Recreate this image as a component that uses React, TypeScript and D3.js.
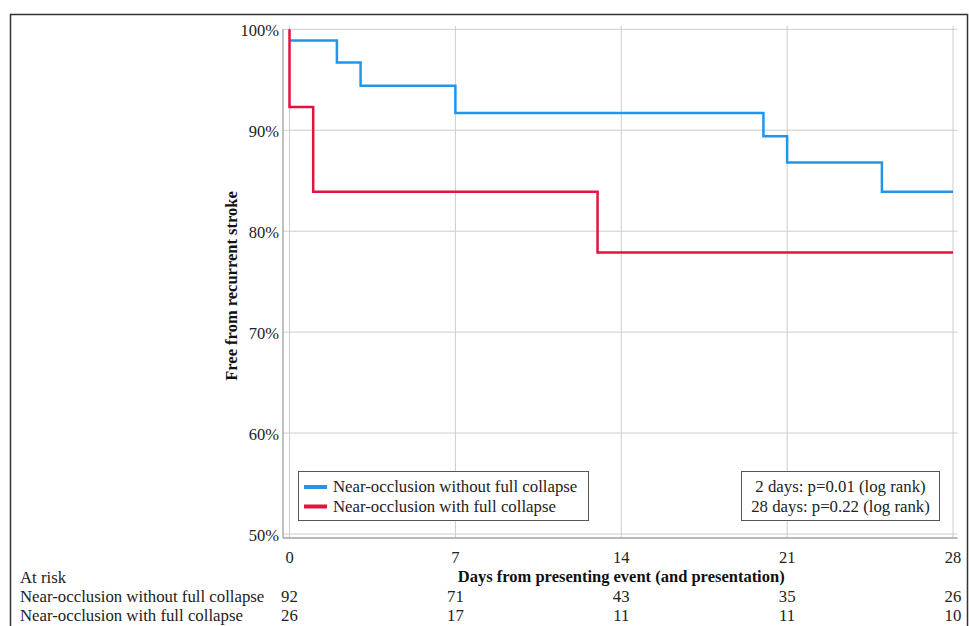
import * as d3 from "d3";

const W = 969;
const H = 626;

// Kaplan-Meier steps (days, % free from recurrent stroke)
const blueDays = [0, 2, 3, 7, 20, 21, 25, 28];
const blueSurv = [98.9, 96.7, 94.4, 91.7, 89.4, 86.8, 83.9, 83.9];
const redDays = [0, 0, 1, 13, 28];
const redSurv = [100, 92.3, 83.9, 77.9, 77.9];

const xTicks = [0, 7, 14, 21, 28];
const yTicks = [50, 60, 70, 80, 90, 100];
const riskWithout = [92, 71, 43, 35, 26];
const riskWith = [26, 17, 11, 11, 10];

const seriesNames = ["Near-occlusion without full collapse", "Near-occlusion with full collapse"];
const pLines = ["2 days: p=0.01 (log rank)", "28 days: p=0.22 (log rank)"];

const BLUE = "#1f96ee";
const RED = "#e0143e";
const FONT = "'Liberation Serif', 'Times New Roman', serif";

export default function App() {
  const x = d3.scaleLinear().domain([0, 28]).range([289.5, 953]);
  const y = d3.scaleLinear().domain([50, 100]).range([534, 29.3]);
  const left = 283;
  const right = 957.5;
  const bottom = 538;

  const line = d3
    .line<[number, number]>()
    .x((d) => x(d[0]))
    .y((d) => y(d[1]))
    .curve(d3.curveStepAfter);

  const bluePts = blueDays.map((d, i) => [d, blueSurv[i]] as [number, number]);
  const redPts = redDays.map((d, i) => [d, redSurv[i]] as [number, number]);

  return (
    <svg
      width={W}
      height={H}
      style={{ position: "absolute", left: 0, top: 0, background: "#fff" }}
      fontFamily={FONT}
    >
      {/* outer frame */}
      <rect x={10.5} y={14.5} width={957} height={640} fill="none" stroke="#333" strokeWidth={1.5} />

      {/* gridlines */}
      {yTicks.map((t) => (
        <line key={"gy" + t} x1={left} x2={right} y1={y(t)} y2={y(t)} stroke="#cccccc" strokeWidth={1} />
      ))}
      {xTicks.map((t) => (
        <line key={"gx" + t} x1={x(t)} x2={x(t)} y1={26} y2={bottom} stroke="#cccccc" strokeWidth={1} />
      ))}

      {/* axes */}
      <line x1={left} x2={left} y1={29} y2={bottom} stroke="#a0a0a0" strokeWidth={1.3} />
      <line x1={left} x2={right} y1={bottom} y2={bottom} stroke="#a0a0a0" strokeWidth={1.3} />

      {/* curves */}
      <path d={line(bluePts) || ""} fill="none" stroke={BLUE} strokeWidth={2.5} />
      <path d={line(redPts) || ""} fill="none" stroke={RED} strokeWidth={2.5} />

      {/* y tick labels */}
      {yTicks.map((t) => (
        <text key={"ty" + t} x={279} y={y(t) + 7} textAnchor="end" fontSize={16.5} fill="#222">
          {t}%
        </text>
      ))}
      {/* x tick labels */}
      {xTicks.map((t) => (
        <text key={"tx" + t} x={x(t)} y={563} textAnchor="middle" fontSize={16.5} fill="#222">
          {t}
        </text>
      ))}

      {/* axis titles */}
      <text
        transform={`translate(237,286) rotate(-90)`}
        textAnchor="middle"
        fontSize={16.5}
        fontWeight="bold"
        fill="#111"
      >
        Free from recurrent stroke
      </text>
      <text x={x(14)} y={582} textAnchor="middle" fontSize={16.5} fontWeight="bold" fill="#111">
        Days from presenting event (and presentation)
      </text>

      {/* legend */}
      <rect x={298.5} y={471.5} width={290} height={49} fill="#fff" stroke="#555" strokeWidth={1} />
      {seriesNames.map((n, i) => (
        <g key={n}>
          <line x1={304} x2={327} y1={487 + i * 19.5} y2={487 + i * 19.5} stroke={i === 0 ? BLUE : RED} strokeWidth={4} />
          <text x={333} y={492 + i * 19.5} fontSize={16.8} fill="#222">
            {n}
          </text>
        </g>
      ))}

      {/* p-value box */}
      <rect x={741.5} y={471.5} width={198} height={49} fill="#fff" stroke="#555" strokeWidth={1} />
      {pLines.map((p, i) => (
        <text key={p} x={840.5} y={492 + i * 19.5} textAnchor="middle" fontSize={16.8} fill="#222">
          {p}
        </text>
      ))}

      {/* at risk table */}
      <text x={20} y={583} fontSize={16.8} fill="#222">
        At risk
      </text>
      <text x={20} y={602} fontSize={16.8} fill="#222">
        {seriesNames[0]}
      </text>
      <text x={20} y={621} fontSize={16.8} fill="#222">
        {seriesNames[1]}
      </text>
      {xTicks.map((t, i) => (
        <g key={"r" + t}>
          <text x={x(t)} y={602} textAnchor="middle" fontSize={16.8} fill="#222">
            {riskWithout[i]}
          </text>
          <text x={x(t)} y={621} textAnchor="middle" fontSize={16.8} fill="#222">
            {riskWith[i]}
          </text>
        </g>
      ))}
    </svg>
  );
}
